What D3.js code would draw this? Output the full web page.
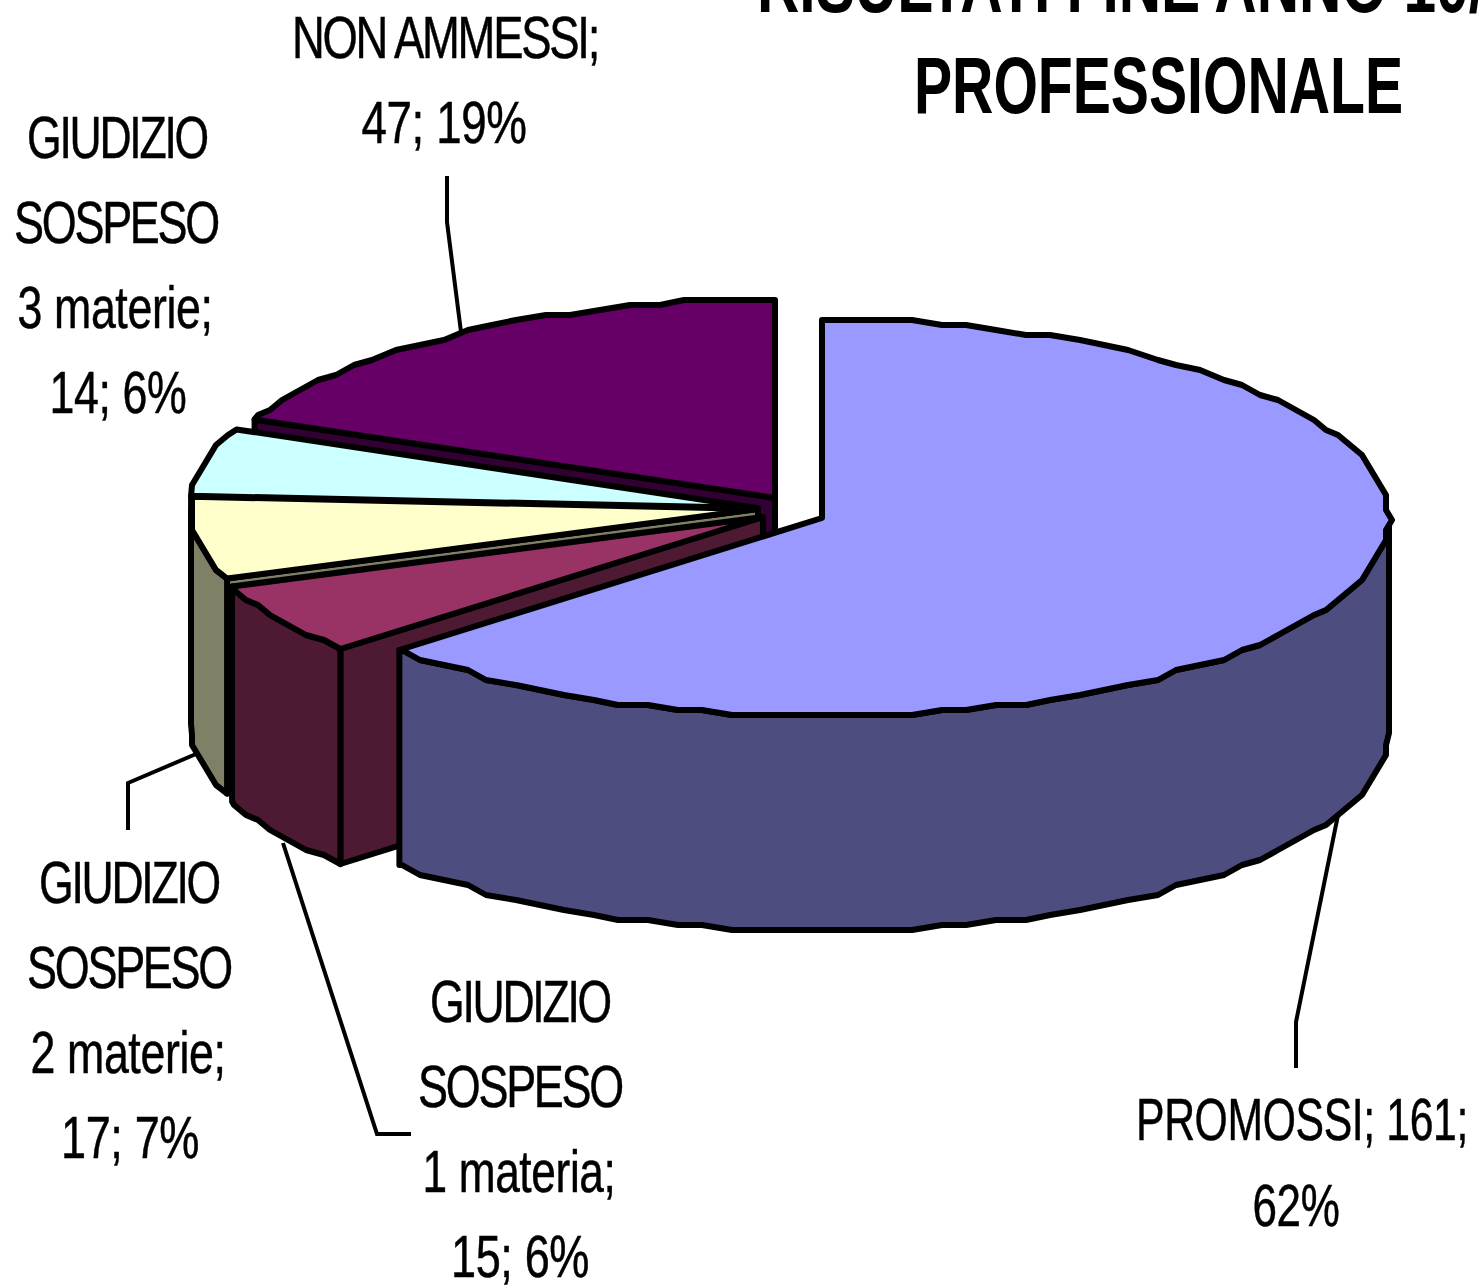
<!DOCTYPE html>
<html><head><meta charset="utf-8">
<script src="https://cdn.jsdelivr.net/npm/d3@7/dist/d3.min.js"></script>
<style>html,body{margin:0;padding:0;background:#fff;overflow:hidden}svg{display:block}</style>
</head><body><svg id="c" width="1480" height="1285"></svg>
<script>
const categories = ["PROMOSSI","GIUDIZIO SOSPESO 1 materia","GIUDIZIO SOSPESO 2 materie","GIUDIZIO SOSPESO 3 materie","NON AMMESSI"];
const values = [161,15,17,14,47];
const percents = [62,6,7,6,19];
const topColors = ["#9999FF","#993366","#FFFFCC","#CCFFFF","#660066"];
const sideColors = ["#4D4D80","#4D1933","#808066","#668080","#330033"];
const titleLines = ["RISULTATI FINE ANNO 10/11","PROFESSIONALE"];

const apex = [[822,518],[763,517],[758,509],[757,508],[775,498]];
const RX = 567, RY = 198, DEPTH = 215;
const sx = d3.scaleLinear().domain([-1,1]).range([-RX,RX]);
const sy = d3.scaleLinear().domain([-1,1]).range([-RY,RY]);
const svg = d3.select("#c");
const arcs = d3.pie().sort(null).value(d=>d)(values);
const q = (v,g)=>Math.round(v/g)*g;
const pt = (i,t)=>[apex[i][0]+sx(Math.sin(t)), apex[i][1]+sy(-Math.cos(t))];
// outline sampled on a fixed angle grid, so top edge and wall edge share the same vertices
const STEP = 3*Math.PI/180;
function rim(i,a,b){
  const out=[pt(i,a)];
  for(let k=Math.floor(a/STEP)+1; k*STEP<b-1e-6; k++){
    const p = pt(i,k*STEP);
    out.push([q(p[0],6), q(p[1],5)]);
  }
  out.push(pt(i,b));
  return out;
}
const line = d3.line();
const drop = ps=>ps.map(p=>[p[0],p[1]+DEPTH]);
const shape = (ps,fill)=>svg.append("path").attr("d",line(ps)+"Z").attr("fill",fill)
  .attr("stroke","#000").attr("stroke-width",6).attr("stroke-linejoin","round");

// back to front, as the slices overlap
[4,3,2,1,0].forEach(i=>{
  const a=arcs[i].startAngle, b=arcs[i].endAngle, A=apex[i];
  const P=pt(i,a);
  // radial wall facing the viewer
  if(i!==0) shape([A,P,[P[0],P[1]+DEPTH],[A[0],A[1]+DEPTH]], sideColors[i]);
  // outer wall on the front half
  const lo=Math.max(a,Math.PI/2), hi=Math.min(b,Math.PI*1.5);
  if(lo<hi){
    const r=rim(i,lo,hi);
    shape(r.concat(drop(r).reverse()), sideColors[i]);
  }
  shape([A].concat(rim(i,a,b)), topColors[i]);
});

// leader lines
const leaders = [
  [[447,176],[447,222],[461,332]],
  [[128,830],[128,783],[196,754]],
  [[411,1134],[377,1134],[283,843]],
  [[1296,1068],[1296,1022],[1338,815]]
];
leaders.forEach(l=>svg.append("path").attr("d",line(l)).attr("fill","none").attr("stroke","#000").attr("stroke-width",4));

// labels: [text, centre x, baseline, drawn width]
const labels = [
  ["NON AMMESSI;",445,58,306],[`${values[4]}; ${percents[4]}%`,444,143,165],
  ["GIUDIZIO",117,158,180],["SOSPESO",116,243,204],["3 materie;",115,328,195],[`${values[3]}; ${percents[3]}%`,118,413,137],
  ["GIUDIZIO",129,903,180],["SOSPESO",129,988,204],["2 materie;",128,1073,195],[`${values[2]}; ${percents[2]}%`,130,1158,138],
  ["GIUDIZIO",520,1022,180],["SOSPESO",520,1107,204],["1 materia;",519,1192,193],[`${values[1]}; ${percents[1]}%`,520,1277,138],
  [`PROMOSSI; ${values[0]};`,1302,1140,332],[`${percents[0]}%`,1296,1226,87]
];
svg.append("g").selectAll("text").data(labels).join("text")
  .attr("x",d=>d[1]-d[3]/2).attr("y",d=>d[2])
  .attr("textLength",d=>d[3]).attr("lengthAdjust","spacingAndGlyphs")
  .attr("font-family","'Liberation Sans',Arial,sans-serif").attr("font-size",60)
  .attr("letter-spacing",d=>/^[A-Z]+;?$|^[A-Z ]+;$/.test(d[0])?-3:-0.5).attr("stroke","#000").attr("stroke-width",0.5).attr("fill","#000")
  .text(d=>d[0]);

svg.append("text").attr("x",757).attr("y",12).attr("textLength",790).attr("lengthAdjust","spacingAndGlyphs")
  .attr("font-family","'Liberation Sans',Arial,sans-serif").attr("font-weight","bold").attr("font-size",80).text(titleLines[0]);
svg.append("text").attr("x",914).attr("y",113).attr("textLength",489).attr("lengthAdjust","spacingAndGlyphs")
  .attr("font-family","'Liberation Sans',Arial,sans-serif").attr("font-weight","bold").attr("font-size",80).text(titleLines[1]);
</script></body></html>
